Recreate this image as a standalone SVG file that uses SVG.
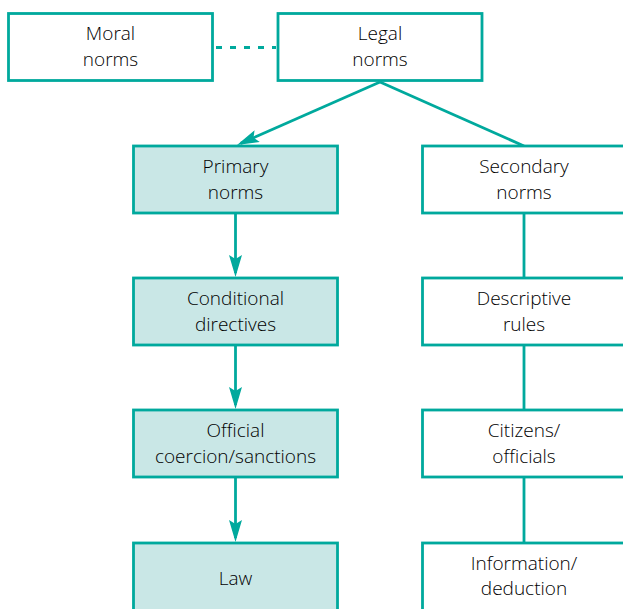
<svg xmlns="http://www.w3.org/2000/svg" width="623" height="609" viewBox="0 0 623 609">
  <style>
    .box { fill: #ffffff; stroke: #00a99d; stroke-width: 2.8; }
    .box.primary { fill: #c9e7e6; }
    .lbl { font-family: "Open Sans", "Liberation Sans", sans-serif; font-size: 19px; font-weight: 300; fill: #000000; text-anchor: middle; }
    .edge { fill: none; stroke: #00a99d; stroke-width: 2.8; }
    .dotted { stroke-dasharray: 6 8; }
  </style>
  <defs>
    <marker id="head" viewBox="0 0 22 13" markerWidth="22" markerHeight="13" refX="18" refY="6.5" orient="auto" markerUnits="userSpaceOnUse">
      <path d="M0,0 L22,6.5 L0,13 L4,6.5 Z" fill="#00a99d"/>
    </marker>
  </defs>

  <rect width="623" height="609" fill="#ffffff"/>

  <!-- connectors -->
  <g id="connectors">
    <line class="edge dotted" x1="216" y1="47.5" x2="276" y2="47.5"/>
    <line class="edge" x1="380" y1="82" x2="240.7" y2="143.4" marker-end="url(#head)"/>
    <line class="edge" x1="380" y1="82" x2="524" y2="146"/>
    <line class="edge" x1="235.5" y1="214" x2="235.5" y2="273" marker-end="url(#head)"/>
    <line class="edge" x1="235.5" y1="346" x2="235.5" y2="405" marker-end="url(#head)"/>
    <line class="edge" x1="235.5" y1="478" x2="235.5" y2="538" marker-end="url(#head)"/>
    <line class="edge" x1="524" y1="214" x2="524" y2="278"/>
    <line class="edge" x1="524" y1="346" x2="524" y2="410"/>
    <line class="edge" x1="524" y1="478" x2="524" y2="543"/>
  </g>

  <!-- top row -->
  <g id="moral-norms">
    <rect class="box" x="8.5" y="13.5" width="204" height="67"/>
    <text class="lbl" x="110.5" y="39.5">Moral</text>
    <text class="lbl" x="110.5" y="66">norms</text>
  </g>
  <g id="legal-norms">
    <rect class="box" x="278" y="13.5" width="204" height="67"/>
    <text class="lbl" x="380" y="39.5">Legal</text>
    <text class="lbl" x="380" y="66">norms</text>
  </g>

  <!-- left column -->
  <g id="primary-norms">
    <rect class="box primary" x="133.5" y="146" width="204" height="67"/>
    <text class="lbl" x="235.5" y="172.5">Primary</text>
    <text class="lbl" x="235.5" y="198.5">norms</text>
  </g>
  <g id="conditional-directives">
    <rect class="box primary" x="133.5" y="278" width="204" height="67"/>
    <text class="lbl" x="235.5" y="304.5">Conditional</text>
    <text class="lbl" x="235.5" y="330.5">directives</text>
  </g>
  <g id="official-coercion">
    <rect class="box primary" x="133.5" y="410" width="204" height="67"/>
    <text class="lbl" x="235.5" y="436.5">Official</text>
    <text class="lbl" x="235.5" y="462.5">coercion/sanctions</text>
  </g>
  <g id="law">
    <rect class="box primary" x="133.5" y="543" width="204" height="70"/>
    <text class="lbl" x="235.5" y="584.5">Law</text>
  </g>

  <!-- right column -->
  <g id="secondary-norms">
    <rect class="box" x="422.5" y="146" width="204" height="67"/>
    <text class="lbl" x="524" y="172.5">Secondary</text>
    <text class="lbl" x="524" y="198.5">norms</text>
  </g>
  <g id="descriptive-rules">
    <rect class="box" x="422.5" y="278" width="204" height="67"/>
    <text class="lbl" x="524" y="304.5">Descriptive</text>
    <text class="lbl" x="524" y="330.5">rules</text>
  </g>
  <g id="citizens-officials">
    <rect class="box" x="422.5" y="410" width="204" height="67"/>
    <text class="lbl" x="524" y="436.5">Citizens/</text>
    <text class="lbl" x="524" y="462.5">officials</text>
  </g>
  <g id="information-deduction">
    <rect class="box" x="422.5" y="543" width="204" height="70"/>
    <text class="lbl" x="524" y="569.5">Information/</text>
    <text class="lbl" x="524" y="595">deduction</text>
  </g>
</svg>
